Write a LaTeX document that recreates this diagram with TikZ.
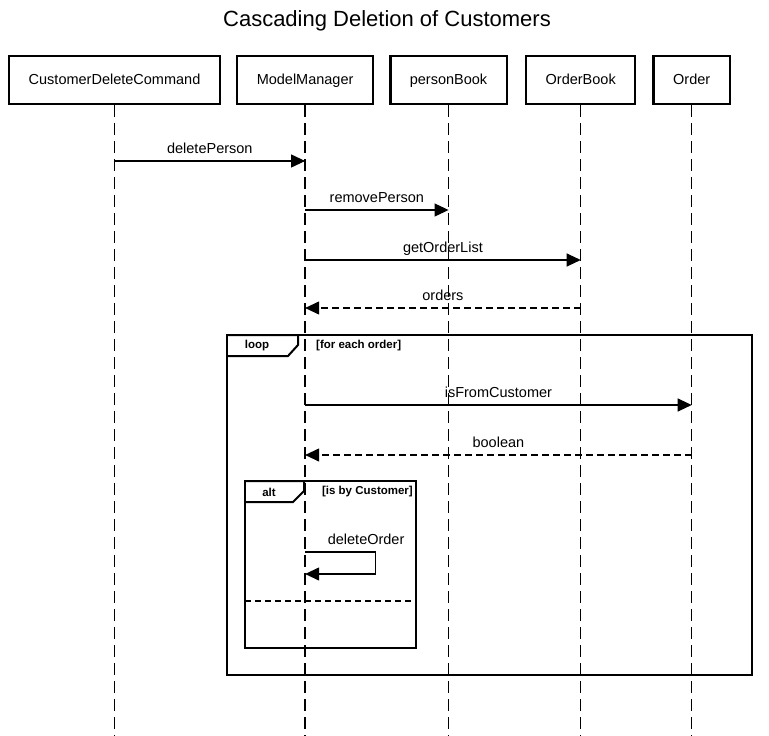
\documentclass[tikz,border=0pt]{standalone}
\usepackage{fontspec}
\setmainfont{Liberation Sans}
\usepackage{tikz}
\usetikzlibrary{arrows.meta, positioning, calc}
\tikzset{%
	head/.style={draw, line width=2.4pt, rectangle, minimum height=48pt, inner xsep=19.5pt,%
		text height=10.5pt, text depth=2.5pt, font=\fontsize{14.5}{16}\selectfont},
	life/.style={line width=1.3pt, dash pattern=on 12pt off 6pt},
	msg/.style={line width=1.1pt, -{Triangle[length=14pt, width=13pt]}},
	reply/.style={msg, dash pattern=on 7pt off 4pt},
	msglabel/.style={above=7pt, inner sep=0pt, text depth=0pt, font=\fontsize{14.5}{16}\selectfont},
	frame/.style={draw, line width=2pt},
	tag/.style={inner sep=0pt, font=\bfseries\fontsize{11.5}{13}\selectfont}
}
\begin{document}
\begin{tikzpicture}[x=1pt, y=1pt, node distance=15pt]
	\useasboundingbox (0,0) rectangle (769,-736);
	\node[font=\fontsize{22}{26}\selectfont, anchor=base] (title) at (387,-27) {Cascading Deletion of Customers};
	\node[head, anchor=north west] (cdc) at (8,-55) {CustomerDeleteCommand};
	\node[head] (mm) [right=of cdc] {ModelManager};
	\node[head] (pb) [right=of mm] {personBook};
	\node[head, node distance=17pt] (ob) [right=of pb] {OrderBook};
	\node[head, node distance=16pt] (ord) [right=of ob] {Order};
	% lifelines
	\coordinate (bottom) at (0,-736);
	\draw [life] (cdc.south) -- (cdc.south |- bottom);
	\draw [life] (mm.south) -- (mm.south |- bottom);
	\draw [life] (pb.south) -- (pb.south |- bottom);
	\draw [life] (ob.south) -- (ob.south |- bottom);
	\draw [life] (ord.south) -- (ord.south |- bottom);
	% message heights
	\coordinate (t1) at (0,-161);
	\coordinate (t2) at (0,-210);
	\coordinate (t3) at (0,-260);
	\coordinate (t4) at (0,-308);
	\coordinate (t5) at (0,-405);
	\coordinate (t6) at (0,-455);
	\coordinate (t7) at (0,-552);
	\coordinate (t8) at (0,-574);
	% loop frame
	\coordinate (loop-nw) at (227,-335);
	\coordinate (loop-se) at (752,-675);
	\draw [frame] (loop-nw) rectangle (loop-se);
	\draw [frame] (loop-nw) -- ++(71,0) -- ++(0,-10) -- ++(-10,-11) -- ++(-61,0);
	\node[tag] (loop) at (257,-346) {loop};
	\node[tag, anchor=west] (loop-guard) at (316,-346) {[for each order]};
	% alt frame
	\coordinate (alt-nw) at (245,-481);
	\coordinate (alt-se) at (416,-648);
	\draw [frame] (alt-nw) rectangle (alt-se);
	\draw [frame] (alt-nw) -- ++(59,0) -- ++(0,-10) -- ++(-11,-11) -- ++(-48,0);
	\draw [frame, dash pattern=on 6pt off 4pt] (alt-nw |- 0,-601) -- (alt-se |- 0,-601);
	\node[tag] (alt) at (269,-492) {alt};
	\node[tag, anchor=east] (alt-guard) at (413,-492) {[is by Customer]};
	% messages
	\draw [msg] (cdc |- t1) -- node[msglabel]{deletePerson} (mm |- t1);
	\draw [msg] (mm |- t2) -- node[msglabel]{removePerson} (pb |- t2);
	\draw [msg] (mm |- t3) -- node[msglabel]{getOrderList} (ob |- t3);
	\draw [reply] (ob |- t4) -- node[msglabel]{orders} (mm |- t4);
	\draw [msg] (mm |- t5) -- node[msglabel]{isFromCustomer} (ord |- t5);
	\draw [reply] (ord |- t6) -- node[msglabel]{boolean} (mm |- t6);
	\draw [msg] (mm |- t7) -- node[msglabel, xshift=26pt]{deleteOrder} ++(70,0) |- (mm |- t8);
\end{tikzpicture}
\end{document}
